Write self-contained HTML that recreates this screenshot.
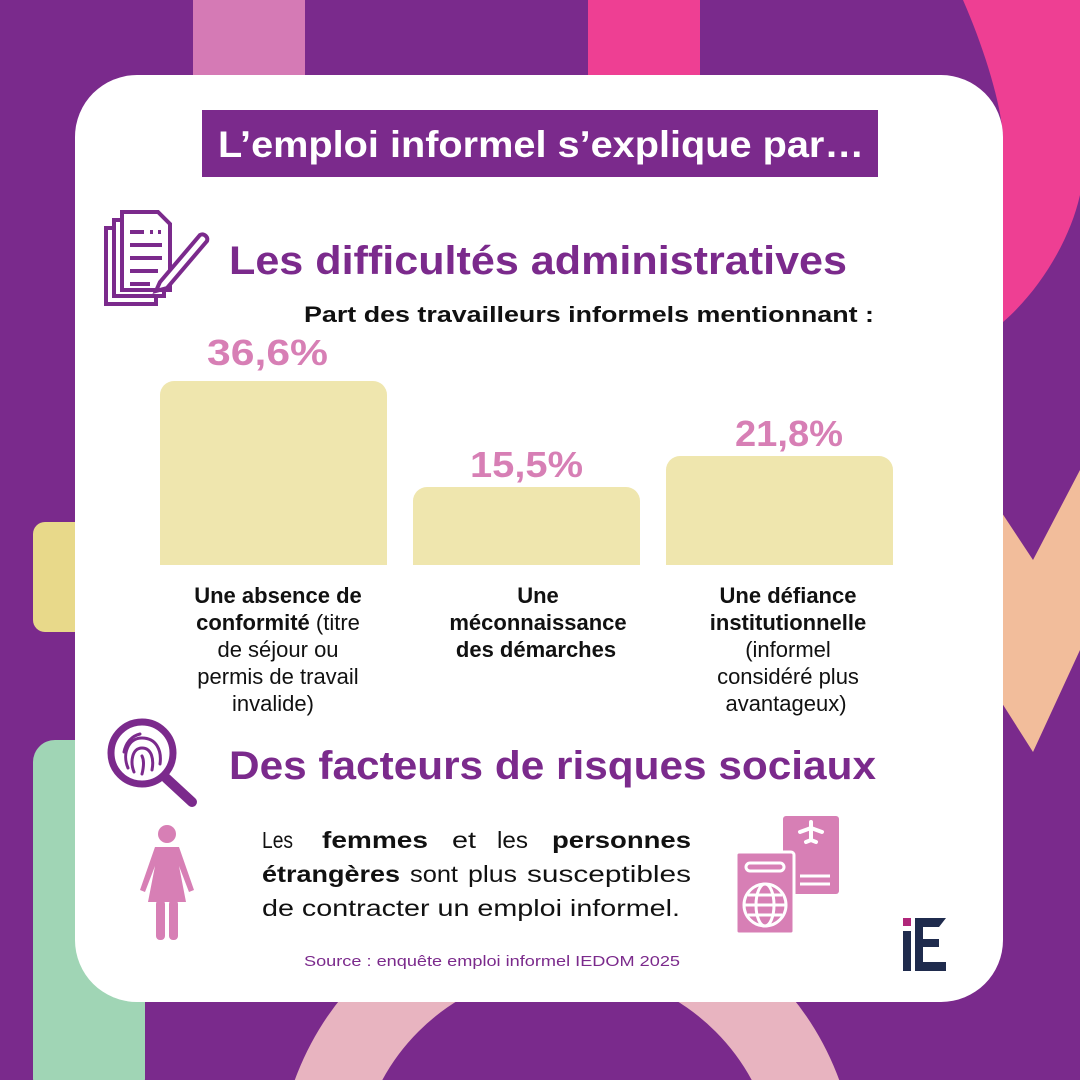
<!DOCTYPE html>
<html><head><meta charset="utf-8"><style>html,body{margin:0;padding:0;width:1080px;height:1080px;overflow:hidden;background:#7a2a8c}svg{display:block}</style></head>
<body>
<svg width="1080" height="1080" viewBox="0 0 1080 1080" xmlns="http://www.w3.org/2000/svg" font-family="Liberation Sans, sans-serif">
<rect width="1080" height="1080" fill="#7a2a8c"/>
<rect x="193" y="0" width="112" height="120" fill="#d57ab5"/>
<rect x="588" y="0" width="112" height="120" fill="#ee3f93"/>
<path d="M963 0 C985 50 1003 110 1003 140 L1003 322 C1040 290 1070 240 1080 195 L1080 0 Z" fill="#ee3f93"/>
<path d="M1000 510 L1033 560 L1080 470 L1080 650 L1033 752 L1000 700 Z" fill="#f2bd9b"/>
<rect x="33" y="522" width="80" height="110" rx="12" fill="#e8d98a"/>
<rect x="33" y="740" width="112" height="360" rx="22" fill="#a0d5b5"/>
<circle cx="567" cy="1180" r="250" fill="none" stroke="#e8b4c0" stroke-width="80"/>
<rect x="75" y="75" width="928" height="927" rx="62" fill="#fff"/>
<rect x="202" y="110" width="676" height="67" fill="#7b2a8c"/>
<text x="218" y="157" font-size="37" font-weight="bold" fill="#fff" textLength="646" lengthAdjust="spacingAndGlyphs">L’emploi informel s’explique par…</text>
<g fill="none" stroke="#7b2a8c" stroke-width="4">
<rect x="106" y="228" width="50" height="76"/>
<rect x="114" y="220" width="50" height="76" fill="#fff"/>
<path d="M122 212 L158 212 L170 224 L170 290 L122 290 Z" fill="#fff"/>
<path d="M130 232h14M150 232h3M158 232h3M130 245h32M130 258h32M130 271h28M130 284h20"/>
<path d="M160 282 L200 235 A5 5 0 0 1 207 241 L167 288 L156 291 Z" fill="#fff"/>
</g>
<text x="229" y="274" font-size="40" font-weight="bold" fill="#7b2a8c" textLength="618" lengthAdjust="spacingAndGlyphs">Les difficultés administratives</text>
<text x="304" y="322" font-size="22" font-weight="bold" fill="#111" textLength="570" lengthAdjust="spacingAndGlyphs">Part des travailleurs informels mentionnant :</text>
<g fill="#efe6ae">
<path d="M160 565 V395 a14 14 0 0 1 14 -14 H373 a14 14 0 0 1 14 14 V565Z"/>
<path d="M413 565 V501 a14 14 0 0 1 14 -14 H626 a14 14 0 0 1 14 14 V565Z"/>
<path d="M666 565 V470 a14 14 0 0 1 14 -14 H879 a14 14 0 0 1 14 14 V565Z"/>
</g>
<g font-size="36" font-weight="bold" fill="#d77fb5">
<text x="207" y="365" textLength="121" lengthAdjust="spacingAndGlyphs">36,6%</text>
<text x="470" y="477" textLength="113" lengthAdjust="spacingAndGlyphs">15,5%</text>
<text x="735" y="446" textLength="108" lengthAdjust="spacingAndGlyphs">21,8%</text>
</g>
<g font-size="22" fill="#111" text-anchor="middle">
<text x="278" y="603" font-weight="bold">Une absence de</text>
<text x="278" y="630"><tspan font-weight="bold">conformité</tspan> (titre</text>
<text x="278" y="657">de séjour ou</text>
<text x="278" y="684">permis de travail</text>
<text x="273" y="711">invalide)</text>
<text x="538" y="603" font-weight="bold">Une</text>
<text x="538" y="630" font-weight="bold">méconnaissance</text>
<text x="536" y="657" font-weight="bold">des démarches</text>
<text x="788" y="603" font-weight="bold">Une défiance</text>
<text x="788" y="630" font-weight="bold">institutionnelle</text>
<text x="788" y="657">(informel</text>
<text x="788" y="684">considéré plus</text>
<text x="786" y="711">avantageux)</text>
</g>
<g fill="none" stroke="#7b2a8c">
<circle cx="142" cy="753" r="31" stroke-width="7"/>
<line x1="166" y1="778" x2="192" y2="802" stroke-width="10" stroke-linecap="round"/>
<path d="M128 768c-6-14 0-30 14-30s20 12 18 26M134 772c-4-10-2-24 8-24s12 12 10 22M142 774c2-8 2-14 0-18M124 752c2-10 8-16 16-18" stroke-width="3" stroke-linecap="round"/>
</g>
<text x="229" y="779" font-size="40" font-weight="bold" fill="#7b2a8c" textLength="647" lengthAdjust="spacingAndGlyphs">Des facteurs de risques sociaux</text>
<g fill="#d77fb5">
<circle cx="167" cy="834" r="9"/>
<path d="M155 847 H179 L194 890 L189 892 L179 866 L186 902 H148 L155 866 L145 892 L140 890 Z"/>
<rect x="156" y="900" width="9" height="40" rx="4"/>
<rect x="169" y="900" width="9" height="40" rx="4"/>
</g>
<g font-size="23" fill="#111">
<text x="262" y="848" textLength="31" lengthAdjust="spacingAndGlyphs">Les</text>
<text x="322" y="848" font-weight="bold" textLength="106" lengthAdjust="spacingAndGlyphs">femmes</text>
<text x="452" y="848" textLength="24" lengthAdjust="spacingAndGlyphs">et</text>
<text x="497" y="848" textLength="31" lengthAdjust="spacingAndGlyphs">les</text>
<text x="552" y="848" font-weight="bold" textLength="139" lengthAdjust="spacingAndGlyphs">personnes</text>
<text x="262" y="882" font-weight="bold" textLength="138" lengthAdjust="spacingAndGlyphs">étrangères</text>
<text x="410" y="882" textLength="48" lengthAdjust="spacingAndGlyphs">sont</text>
<text x="468" y="882" textLength="49" lengthAdjust="spacingAndGlyphs">plus</text>
<text x="527" y="882" textLength="164" lengthAdjust="spacingAndGlyphs">susceptibles</text>
<text x="262" y="916" textLength="418" lengthAdjust="spacingAndGlyphs">de contracter un emploi informel.</text>
</g>
<text x="304" y="966" font-size="15" fill="#7b2a8c" textLength="376" lengthAdjust="spacingAndGlyphs">Source : enquête emploi informel IEDOM 2025</text>
<g fill="#d77fb5">
<rect x="783" y="816" width="56" height="78" rx="3"/>
<rect x="736" y="852" width="58" height="82" rx="3" stroke="#fff" stroke-width="3"/>
</g>
<g fill="none" stroke="#fff" stroke-width="3">
<path d="M800 876h30M800 884h30"/>
<rect x="746" y="863" width="38" height="8" rx="4"/>
<circle cx="765" cy="905" r="21"/>
<ellipse cx="765" cy="905" rx="9" ry="21"/>
<path d="M744 905h42M748 895h34M748 915h34"/>
</g>
<path d="M811 822v18M800 832l11-4 11 4M806 842l5-2 5 2" stroke="#fff" stroke-width="4" fill="none" stroke-linecap="round"/>
<rect x="903" y="918" width="8" height="8" fill="#b0267a"/>
<rect x="903" y="931" width="8" height="40" fill="#1f2b4d"/>
<path d="M915 918h31l-7 9h-16v12h16v8h-16v15h23v9h-31Z" fill="#1f2b4d"/>
</svg>
</body></html>
